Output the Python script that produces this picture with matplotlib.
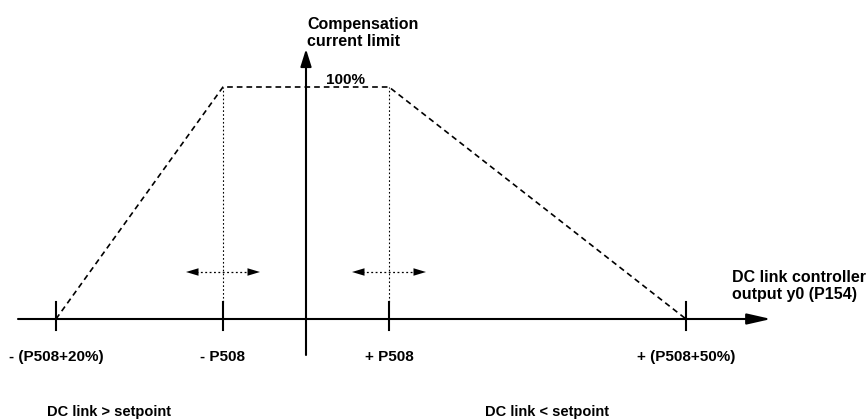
import matplotlib.pyplot as plt

plt.rcParams['font.family'] = ['Liberation Sans', 'DejaVu Sans']

# positions along the controller-output axis (origin = y axis)
tick_x = [-250, -83, 83, 380]
tick_labels = ["- (P508+20%)", "- P508", "+ P508", "+ (P508+50%)"]

# trapezoid of the compensation current limit (100% = 232)
limit_x = [-250, -83, 83, 380]
limit_y = [0, 232, 232, 0]

# shift arrows around +/- P508
shift_centers = [-83, 83]
shift_half = 37
shift_y = 47

fig = plt.figure(figsize=(8.68, 4.19), dpi=100)
ax = fig.add_axes([0, 0, 1, 1])
ax.set_xlim(-306, 562)
ax.set_ylim(-100, 319)
ax.axis("off")

# axes with arrow heads
ax.annotate("", xy=(465, 0), xytext=(-288, 0),
            arrowprops=dict(arrowstyle="-|>,head_length=1.45,head_width=0.33",
                            lw=1.5, color="black", mutation_scale=10,
                            shrinkA=0, shrinkB=0))
ax.annotate("", xy=(0, 270), xytext=(0, -36),
            arrowprops=dict(arrowstyle="-|>,head_length=1.05,head_width=0.33",
                            lw=1.5, color="black", mutation_scale=10,
                            shrinkA=0, shrinkB=0))

# ticks and labels
for x, lab in zip(tick_x, tick_labels):
    ax.plot([x, x], [-11, 17], color="black", lw=1.5)
    ax.text(x, -38, lab, ha="center", va="center", fontsize=11, fontweight="bold")

# dashed limit curve
ax.plot(limit_x, limit_y, color="black", lw=1.2, ls=(0, (3.4, 2.4)))

# dotted verticals at +/- P508
for x in limit_x[1:3]:
    ax.plot([x, x], [17, 232], color="black", lw=0.8, ls=(0, (1.5, 2)))

# dotted double arrows
for c in shift_centers:
    ax.plot([c - shift_half + 10, c + shift_half - 10], [shift_y, shift_y],
            color="black", lw=0.9, ls=(0, (1.5, 2)))
    for d in (-1, 1):
        ax.annotate("", xy=(c + d * shift_half, shift_y),
                    xytext=(c + d * (shift_half - 13), shift_y),
                    arrowprops=dict(arrowstyle="-|>,head_length=0.9,head_width=0.27",
                                    lw=0, color="black", mutation_scale=10,
                                    shrinkA=0, shrinkB=0))

ax.text(1, 286, "Compensation\ncurrent limit", ha="left", va="center",
        fontsize=11.5, fontweight="bold")
ax.text(20, 239, "100%", ha="left", va="center", fontsize=11, fontweight="bold")
ax.text(426, 33, "DC link controller\noutput y0 (P154)", ha="left", va="center",
        fontsize=11.5, fontweight="bold")
ax.text(-259, -93, "DC link > setpoint", ha="left", va="center",
        fontsize=10.5, fontweight="bold")
ax.text(179, -93, "DC link < setpoint", ha="left", va="center",
        fontsize=10.5, fontweight="bold")

fig.savefig("out.png", dpi=100)
